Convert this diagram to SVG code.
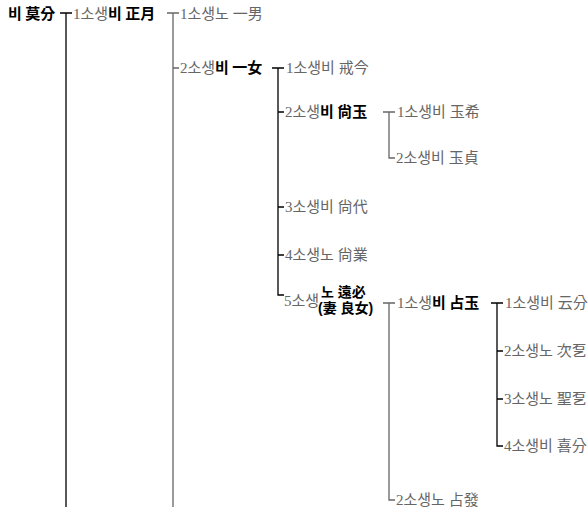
<svg xmlns="http://www.w3.org/2000/svg" width="588" height="518" viewBox="0 0 588 518">
<style>
text{font-family:"Liberation Serif","Noto Sans CJK KR",serif;font-size:15px;fill:#666}
.b{font-family:"Noto Sans CJK KR",sans-serif;font-weight:bold;fill:#000}
.s{font-family:"Liberation Sans","Noto Sans CJK KR",sans-serif;font-size:14px}
.k{stroke:#000;stroke-width:1.3;fill:none}
.g{stroke:#666;stroke-width:1.3;fill:none}
</style>
<rect width="588" height="518" fill="#fff"/>
<g id="connectors">
<path class="k" d="M60 13H72M66 13V507"/>
<path class="g" d="M167 13H179M173 13V507M173 68H179"/>
<path class="k" d="M272 68H284M278 68V295H284M278 112H284M278 207H284M278 255H284"/>
<path class="g" d="M383 112H395M389 112V158H395"/>
<path class="g" d="M383 303H395M389 303V500H395"/>
<path class="k" d="M491 303H503M497 303V446H503M497 351H503M497 399H503"/>
</g>
<g id="n-mobun"><text x="8" y="19" class="b">비 莫分</text></g>
<g id="n-jeongwol"><text x="73" y="19">1소생<tspan class="b">비 正月</tspan></text></g>
<g id="n-ilnam"><text x="180" y="19">1소생노 一男</text></g>
<g id="n-ilnyeo"><text x="180" y="73">2소생<tspan class="b">비 一女</tspan></text></g>
<g id="n-gyegeum"><text x="286" y="73">1소생비 戒今</text></g>
<g id="n-sangok"><text x="285" y="117">2소생<tspan class="b">비 尙玉</tspan></text></g>
<g id="n-okhui"><text x="397" y="117">1소생비 玉希</text></g>
<g id="n-okjeong"><text x="396" y="163">2소생비 玉貞</text></g>
<g id="n-sangdae"><text x="285" y="212">3소생비 尙代</text></g>
<g id="n-sangeop"><text x="285" y="260">4소생노 尙業</text></g>
<g id="n-wonpil"><text x="284" y="306">5소생</text><text x="321" y="297" class="b s">노 遠必</text><text x="318" y="313" class="b s">(妻 良女)</text></g>
<g id="n-jeomok"><text x="397" y="308">1소생<tspan class="b">비 占玉</tspan></text></g>
<g id="n-unbun"><text x="505" y="308">1소생비 云分</text></g>
<g id="n-chadol"><text x="504" y="356">2소생노 次乭</text></g>
<g id="n-seongdol"><text x="504" y="404">3소생노 聖乭</text></g>
<g id="n-huibun"><text x="504" y="451">4소생비 喜分</text></g>
<g id="n-jeombal"><text x="396" y="505">2소생노 占發</text></g>
</svg>
